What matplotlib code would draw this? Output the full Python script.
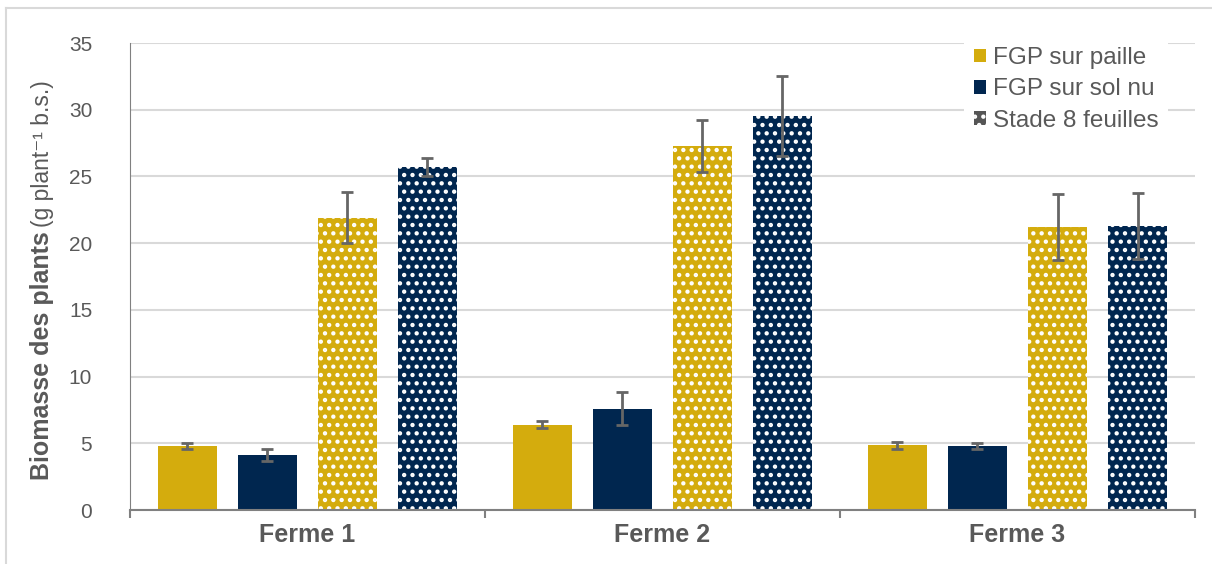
import matplotlib
matplotlib.use("Agg")
import matplotlib.pyplot as plt
import numpy as np
from matplotlib.patches import Patch
from matplotlib.lines import Line2D

plt.rcParams['font.family'] = ['Liberation Sans', 'DejaVu Sans']
plt.rcParams['hatch.linewidth'] = 1.9

# données
fermes = ['Ferme 1', 'Ferme 2', 'Ferme 3']
paille = [4.8, 6.4, 4.85]
paille_err = [0.25, 0.25, 0.25]
solnu = [4.15, 7.6, 4.8]
solnu_err = [0.45, 1.25, 0.22]
paille_8f = [21.9, 27.3, 21.2]
paille_8f_err = [1.9, 1.95, 2.45]
solnu_8f = [25.7, 29.5, 21.3]
solnu_8f_err = [0.7, 3.0, 2.45]

JAUNE = '#D4AC0D'
BLEU = '#00264F'
GRIS = '#595959'

fig = plt.figure(figsize=(12.12, 5.64), dpi=100)
ax = fig.add_axes([0.107, 0.0957, 0.879, 0.828])

# cadre gris clair autour du graphique
fig.add_artist(Line2D([0.005, 0.005], [0, 0.986], color='#D9D9D9', lw=1.5))
fig.add_artist(Line2D([0.005, 1], [0.986, 0.986], color='#D9D9D9', lw=1.5))

x = np.arange(len(fermes))
w = 0.166
offs = [-0.338, -0.113, 0.113, 0.338]
series = [(paille, paille_err, JAUNE, None),
          (solnu, solnu_err, BLEU, None),
          (paille_8f, paille_8f_err, JAUNE, '..'),
          (solnu_8f, solnu_8f_err, BLEU, '..')]

for (vals, errs, col, hatch), o in zip(series, offs):
    ax.bar(x + o, vals, w, color=col, hatch=hatch, edgecolor='white',
           linewidth=0, zorder=2)
    ax.errorbar(x + o, vals, yerr=errs, fmt='none', ecolor='#666666',
                elinewidth=2, capsize=4.5, capthick=2, zorder=3)

ax.set_xlim(-0.5, 2.5)
ax.set_ylim(0, 35)
ax.set_yticks(range(0, 36, 5))
ax.yaxis.grid(True, color='#D9D9D9', linewidth=1.5, zorder=0)
ax.set_axisbelow(True)
for s in ['top', 'right']:
    ax.spines[s].set_visible(False)
ax.spines['left'].set_color('#808080')
ax.spines['bottom'].set_color('#808080')
ax.spines['bottom'].set_linewidth(1.5)
ax.tick_params(axis='y', length=0, labelsize=15, labelcolor=GRIS, pad=27)
ax.set_xticks(x)
ax.set_xticklabels(fermes, fontsize=18, fontweight='bold', color=GRIS)
ax.set_xticks([-0.5, 0.5, 1.5, 2.5], minor=True)
ax.tick_params(axis='x', which='major', length=0, pad=9)
ax.tick_params(axis='x', which='minor', length=6, width=1.5, colors='#808080')

# titre axe y en deux morceaux
t1 = fig.text(0.035, 0.149, 'Biomasse des plants', rotation=90, fontsize=18,
              fontweight='bold', color=GRIS, ha='center', va='bottom')
ax.annotate('(g plant⁻¹ b.s.)', xy=(1, 1), xycoords=t1,
            xytext=(-0.5, 3), textcoords='offset points', rotation=90,
            fontsize=16.5, color=GRIS, ha='right', va='bottom',
            annotation_clip=False)

handles = [Patch(facecolor=JAUNE, label='FGP sur paille'),
           Patch(facecolor=BLEU, label='FGP sur sol nu'),
           Patch(facecolor='#555555', hatch='..', edgecolor='white',
                 linewidth=0, label='Stade 8 feuilles')]
leg = ax.legend(handles=handles, loc='upper right', bbox_to_anchor=(0.975, 1.012),
                frameon=True, facecolor='white', edgecolor='none', framealpha=1,
                fontsize=17.5, handlelength=0.5, handleheight=0.5,
                handletextpad=0.3, labelspacing=0.38, borderaxespad=0)
for t in leg.get_texts():
    t.set_color(GRIS)

fig.savefig('out.png', dpi=100)
